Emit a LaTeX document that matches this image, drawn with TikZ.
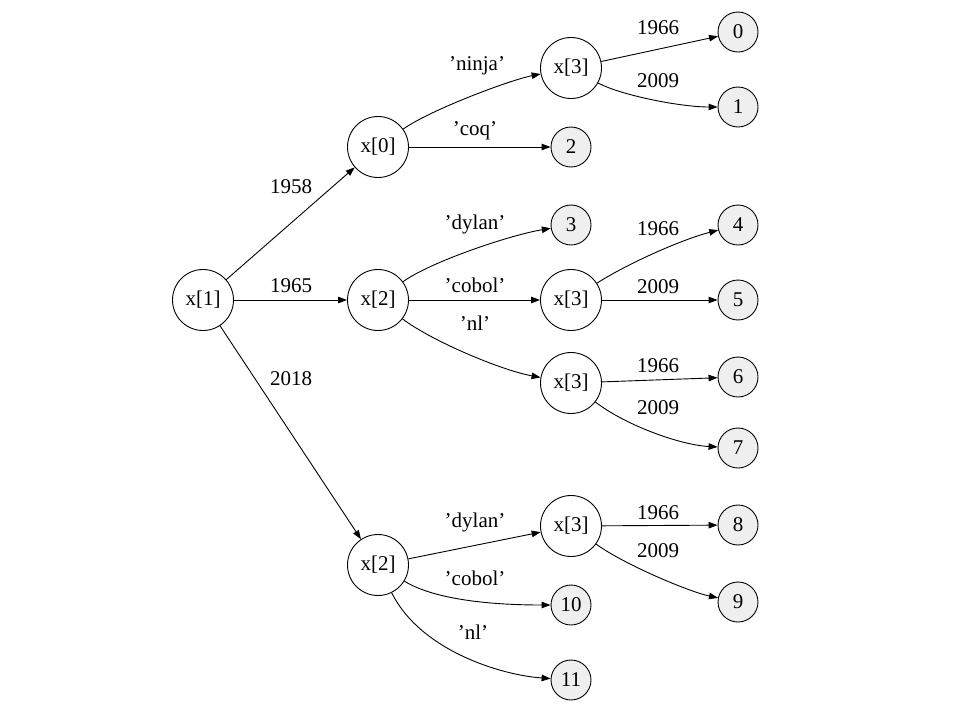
\documentclass[tikz,border=0pt]{standalone}
\usepackage{fontspec}
\setmainfont{Liberation Serif}
\usetikzlibrary{arrows.meta}
\definecolor{leafgray}{RGB}{239,239,239}
\tikzset{
  inner/.style={draw, circle, line width=0.9pt, minimum size=61pt, inner sep=0pt},
  leaf/.style={draw, circle, line width=0.9pt, minimum size=40pt, inner sep=0pt, fill=leafgray},
  edge/.style={line width=0.9pt, -{Triangle[length=9pt,width=6.5pt]}},
  lbl/.style={anchor=base, inner sep=0pt}
}
\begin{document}
\begin{tikzpicture}[x=1pt,y=-1pt,font=\fontsize{21}{25}\selectfont]
\useasboundingbox (0,0) rectangle (967,705);
% inner nodes
\node[inner] (x1) at (203,300) {x[1]};
\node[inner] (x0) at (378,147) {x[0]};
\node[inner] (x2m) at (378,300) {x[2]};
\node[inner] (x2b) at (378,565) {x[2]};
\node[inner] (x3t) at (571,68) {x[3]};
\node[inner] (x3m) at (571,300) {x[3]};
\node[inner] (x3l) at (571,383) {x[3]};
\node[inner] (x3b) at (571,526) {x[3]};
% leaves
\node[leaf] (l0) at (738,32) {0};
\node[leaf] (l1) at (738,107) {1};
\node[leaf] (l2) at (571,147) {2};
\node[leaf] (l3) at (571,225) {3};
\node[leaf] (l4) at (738,225) {4};
\node[leaf] (l5) at (738,300) {5};
\node[leaf] (l6) at (738,377) {6};
\node[leaf] (l7) at (738,448) {7};
\node[leaf] (l8) at (738,525) {8};
\node[leaf] (l9) at (738,602) {9};
\node[leaf] (l10) at (571,605) {10};
\node[leaf] (l11) at (571,680) {11};
% edges
\draw[edge] (x1) -- (x0);
\draw[edge] (x1) -- (x2m);
\draw[edge] (x1) -- (x2b);
\draw[edge] (x0) .. controls (430,110) and (510,80) .. (x3t);
\draw[edge] (x0) -- (l2);
\draw[edge] (x3t) -- (l0);
\draw[edge] (x3t) .. controls (620,95) and (680,107) .. (l1);
\draw[edge] (x2m) .. controls (430,262) and (510,235) .. (l3);
\draw[edge] (x2m) -- (x3m);
\draw[edge] (x2m) .. controls (430,340) and (500,370) .. (x3l);
\draw[edge] (x3m) .. controls (625,265) and (680,240) .. (l4);
\draw[edge] (x3m) -- (l5);
\draw[edge] (x3l) -- (l6);
\draw[edge] (x3l) .. controls (625,425) and (680,445) .. (l7);
\draw[edge] (x2b) -- (x3b);
\draw[edge] (x2b) .. controls (440,603) and (510,605) .. (l10);
\draw[edge] (x2b) .. controls (420,650) and (500,675) .. (l11);
\draw[edge] (x3b) -- (l8);
\draw[edge] (x3b) .. controls (625,565) and (690,592) .. (l9);
% labels
\node[lbl] (t1958) at (291,193) {1958};
\node[lbl] (t1965) at (291,292) {1965};
\node[lbl] (t2018) at (291,385) {2018};
\node[lbl] (tninja) at (477,70) {'ninja'};
\node[lbl] (tcoq) at (475,135) {'coq'};
\node[lbl] (t1966a) at (658,34) {1966};
\node[lbl] (t2009a) at (658,87) {2009};
\node[lbl] (tdylana) at (475,229) {'dylan'};
\node[lbl] (tcobola) at (475,292) {'cobol'};
\node[lbl] (tnla) at (475,330) {'nl'};
\node[lbl] (t1966b) at (658,235) {1966};
\node[lbl] (t2009b) at (658,293) {2009};
\node[lbl] (t1966c) at (658,372) {1966};
\node[lbl] (t2009c) at (658,414) {2009};
\node[lbl] (tdylanb) at (475,527) {'dylan'};
\node[lbl] (tcobolb) at (475,585) {'cobol'};
\node[lbl] (tnlb) at (473,639) {'nl'};
\node[lbl] (t1966d) at (658,519) {1966};
\node[lbl] (t2009d) at (658,557) {2009};
\end{tikzpicture}
\end{document}
